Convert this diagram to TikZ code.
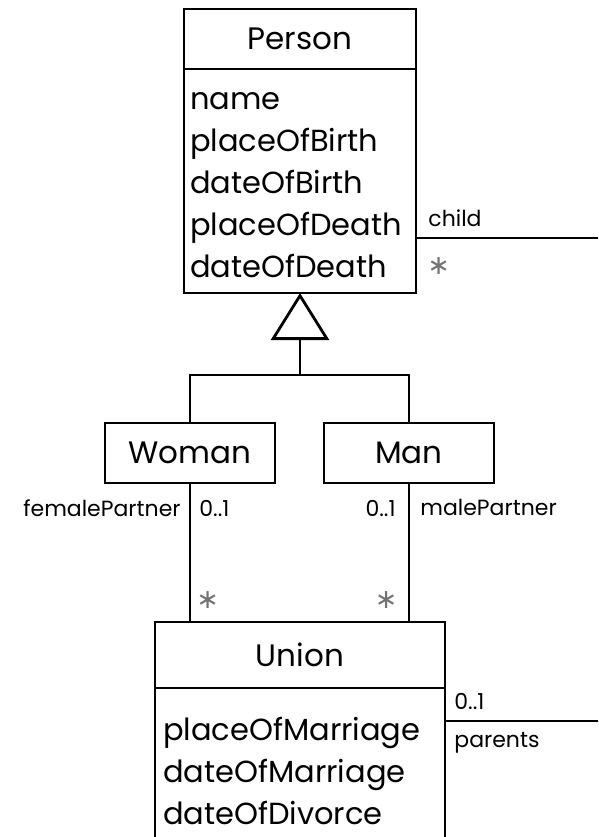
\documentclass[tikz,border=0pt]{standalone}
\usepackage{fontspec}
\setmainfont{Poppins}
\newfontfamily\symfont{DejaVu Sans}
\usetikzlibrary{positioning,arrows.meta}

\begin{document}
\begin{tikzpicture}[
    x=1pt, y=1pt,
    line width=2.8pt,
    classname/.style={rectangle, draw, inner sep=0pt, outer sep=0pt, font=\fontsize{31}{34}\selectfont},
    classattr/.style={rectangle, draw, outer sep=0pt, align=left, inner ysep=0pt, font=\fontsize{30.5}{42}\selectfont},
    role/.style={inner sep=0pt, font=\fontsize{22}{24}\selectfont},
    many/.style={inner sep=0pt, text=black!55, font=\symfont\fontsize{27}{27}\selectfont},
    gen/.style={-{Triangle[open, length=47pt 0, width=58pt 0]}}
]
    \useasboundingbox (0,0) rectangle (598,-837);
    \clip (0,0) rectangle (598,-837);

    % classes
    \node[classname, minimum width=232pt, minimum height=60pt] (person) at (300,-39) {Person};
    \node[classattr, text width=220pt, inner xsep=6pt, text height=41pt, text depth=183pt, below=0pt of person] (personAttr)
        {name\\placeOfBirth\\dateOfBirth\\placeOfDeath\\dateOfDeath};

    \node[classname, minimum width=170pt, minimum height=60pt] (woman) at (190,-453) {Woman};
    \node[classname, minimum width=170pt, minimum height=60pt] (man) at (409,-453) {Man};

    \node[classname, minimum width=290pt, minimum height=66pt] (union) at (300,-655) {Union};
    \node[classattr, text width=274pt, inner xsep=8pt, text height=52pt, text depth=150pt, below=0pt of union] (unionAttr)
        {placeOfMarriage\\dateOfMarriage\\dateOfDivorce};

    % generalization
    \coordinate (genbar) at (300,-375);
    \draw (woman.north) |- (genbar) -| (man.north);
    \draw[gen] (genbar) -- (genbar |- personAttr.south);

    % partners
    \coordinate (womanEnd) at (woman.south |- union.north);
    \coordinate (manEnd) at (man.south |- union.north);
    \draw (woman.south) -- (womanEnd);
    \draw (man.south) -- (manEnd);
    \node[role, below left=15pt and 8pt of woman.south] (femaleRole) {femalePartner};
    \node[role, below right=16pt and 8pt of woman.south] (femaleMult) {0..1};
    \node[role, below left=16pt and 12pt of man.south] (maleMult) {0..1};
    \node[role, below right=15pt and 10pt of man.south] (maleRole) {malePartner};
    \node[many, above right=12pt and 5pt of womanEnd] (womanMany) {∗};
    \node[many, above left=12pt and 10pt of manEnd] (manMany) {∗};

    % child / parents
    \coordinate (childEnd) at (598,-238);
    \coordinate (childStart) at (personAttr.east |- childEnd);
    \draw (childStart) -- (childEnd);
    \node[role, above right=10pt and 11pt of childStart] (childRole) {child};
    \node[many, below right=18pt and 10pt of childStart] (childMany) {∗};

    \coordinate (parentsEnd) at (598,-721);
    \coordinate (parentsStart) at (unionAttr.east |- parentsEnd);
    \draw (parentsStart) -- (parentsEnd);
    \node[role, above right=10pt and 8pt of parentsStart] (parentsMult) {0..1};
    \node[role, below right=10pt and 8pt of parentsStart] (parentsRole) {parents};
\end{tikzpicture}
\end{document}
